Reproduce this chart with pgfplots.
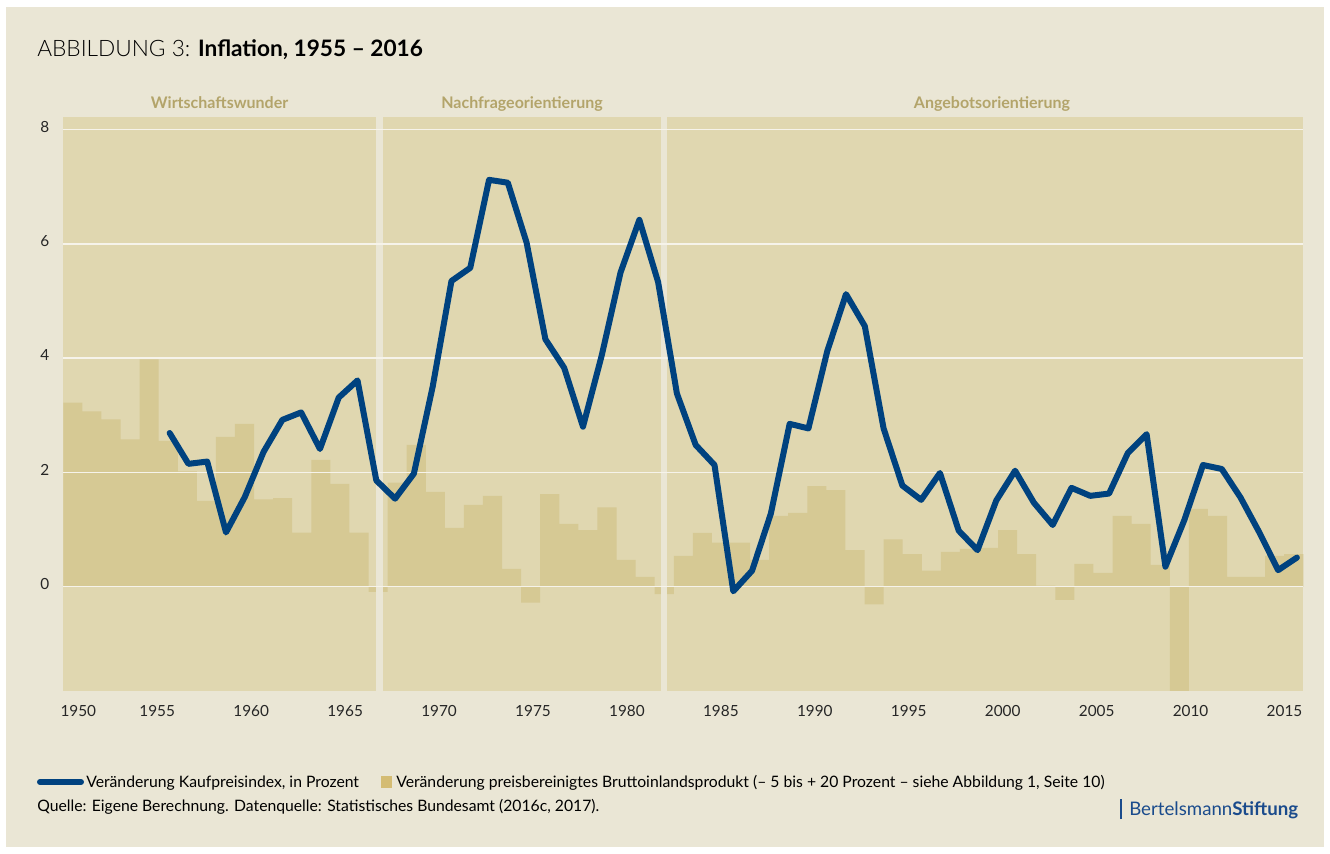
\documentclass[border=0pt]{standalone}
\usepackage{pgfplots}
\pgfplotsset{compat=1.18}
\usepackage{fontspec}
\setmainfont{Lato}
\newfontfamily\latolight{Lato Light}

\definecolor{outerbg}{HTML}{EAE6D5}
\definecolor{plotbg}{HTML}{E0D7B0}
\definecolor{barcol}{HTML}{D6C994}
\definecolor{gridcol}{HTML}{F6F3EA}
\definecolor{linecol}{HTML}{00427F}
\definecolor{sectcol}{HTML}{B3A46A}
\definecolor{legsq}{HTML}{D4BC73}
\definecolor{logocol}{HTML}{1A4B8C}

\begin{document}
\begin{tikzpicture}[x=0.75pt,y=0.75pt]
\fill[white] (0,0) rectangle (1330,853);
\fill[outerbg] (6,6) rectangle (1324,846);

% GDP bars (scaled), with region background and grid
\begin{axis}[
    at={(47.475pt,121.5pt)}, anchor=south west,
    width=930pt, height=430.5pt, scale only axis,
    xmin=1950, xmax=2015,
    ymin=-1.825, ymax=8.22,
    axis line style={draw=none},
    xtick=\empty,
    ytick={0,2,4,6,8}, yticklabels={},
    major tick length=0pt,
    ymajorgrids,
    grid style={color=gridcol, line width=1.1pt},
    axis background/.style={fill=plotbg},
    axis on top
  ]
  \addplot[ybar interval, fill=barcol, draw=none] coordinates {
    (1950,3.22) (1951,3.07) (1952,2.93) (1953,2.58) (1954,3.98)
    (1955,2.55) (1956,2.02) (1957,1.50) (1958,2.62) (1959,2.85)
    (1960,1.53) (1961,1.55) (1962,0.945) (1963,2.22) (1964,1.80)
    (1965,0.945) (1966,-0.09) (1967,1.82) (1968,2.48) (1969,1.66)
    (1970,1.03) (1971,1.43) (1972,1.59) (1973,0.31) (1974,-0.28)
    (1975,1.62) (1976,1.10) (1977,0.99) (1978,1.39) (1979,0.47)
    (1980,0.17) (1981,-0.13) (1982,0.54) (1983,0.94) (1984,0.77)
    (1985,0.77) (1986,0.47) (1987,1.24) (1988,1.29) (1989,1.76)
    (1990,1.69) (1991,0.64) (1992,-0.31) (1993,0.83) (1994,0.57)
    (1995,0.28) (1996,0.61) (1997,0.66) (1998,0.68) (1999,0.99)
    (2000,0.57) (2001,0.02) (2002,-0.23) (2003,0.40) (2004,0.24)
    (2005,1.24) (2006,1.10) (2007,0.38) (2008,-2.5) (2009,1.36)
    (2010,1.24) (2011,0.17) (2012,0.17) (2013,0.54) (2014,0.57)
    (2015,0.57)
  };
  % separators between the three periods
  \fill[outerbg] (axis cs:1966.39,-1.825) rectangle (axis cs:1966.76,8.22);
  \fill[outerbg] (axis cs:1981.32,-1.825) rectangle (axis cs:1981.66,8.22);
\end{axis}

% inflation line and tick labels
\begin{axis}[
    at={(47.475pt,121.5pt)}, anchor=south west,
    width=930pt, height=430.5pt, scale only axis,
    xmin=1950, xmax=2016,
    ymin=-1.825, ymax=8.22,
    axis line style={draw=none},
    major tick length=0pt,
    xtick={1950.8,1955,1960,1965,1970,1975,1980,1985,1990,1995,2000,2005,2010,2015},
    xticklabels={1950,1955,1960,1965,1970,1975,1980,1985,1990,1995,2000,2005,2010,2015},
    ytick={0,2,4,6,8}, yticklabels={0,2,4,6,8},
    tick label style={font=\fontsize{11.5}{13}\selectfont, text=black!85},
    xticklabel style={yshift=-7pt},
    yticklabel style={xshift=-7pt, yshift=2pt}
  ]
  \addplot[color=linecol, line width=4.5pt, line join=round, line cap=round,
    x filter/.expression={x-0.34}] coordinates {
    (1956,2.69) (1957,2.15) (1958,2.19) (1959,0.95) (1960,1.57)
    (1961,2.36) (1962,2.92) (1963,3.05) (1964,2.41) (1965,3.31)
    (1966,3.61) (1967,1.86) (1968,1.54) (1969,1.98) (1970,3.50)
    (1971,5.35) (1972,5.58) (1973,7.12) (1974,7.07) (1975,6.02)
    (1976,4.33) (1977,3.83) (1978,2.80) (1979,4.05) (1980,5.50)
    (1981,6.42) (1982,5.33) (1983,3.38) (1984,2.48) (1985,2.13)
    (1986,-0.08) (1987,0.28) (1988,1.28) (1989,2.85) (1990,2.77)
    (1991,4.12) (1992,5.12) (1993,4.56) (1994,2.77) (1995,1.77)
    (1996,1.52) (1997,1.99) (1998,0.98) (1999,0.64) (2000,1.51)
    (2001,2.03) (2002,1.47) (2003,1.08) (2004,1.73) (2005,1.59)
    (2006,1.63) (2007,2.34) (2008,2.67) (2009,0.35) (2010,1.16)
    (2011,2.13) (2012,2.06) (2013,1.56) (2014,0.95) (2015,0.29)
    (2016,0.51)
  };
\end{axis}

% period labels
\begin{scope}[every node/.style={font=\fontsize{12}{14}\selectfont\bfseries, text=sectcol, anchor=base}]
  \node at (219.6,744) {Wirtschaftswunder};
  \node at (522,744) {Nachfrageorientierung};
  \node at (992,744) {Angebotsorientierung};
\end{scope}

% title
\node[anchor=base west, font=\fontsize{17}{20}\selectfont, inner sep=0pt] at (37,796)
  {{\latolight ABBILDUNG 3:} \textbf{Inflation, 1955 – 2016}};

% legend
\draw[linecol, line width=4.5pt, line cap=round] (40,71) -- (81,71);
\node[anchor=base west, inner sep=0pt, font=\fontsize{11.8}{14}\selectfont] at (86,66)
  {Veränderung Kaufpreisindex, in Prozent};
\fill[legsq] (381,65) rectangle (392,77);
\node[anchor=base west, inner sep=0pt, font=\fontsize{11.8}{14}\selectfont] at (396,66)
  {Veränderung preisbereinigtes Bruttoinlandsprodukt (– 5 bis + 20 Prozent – siehe Abbildung 1, Seite 10)};
\node[anchor=base west, inner sep=0pt, font=\fontsize{11.8}{14}\selectfont] at (37,42)
  {Quelle: Eigene Berechnung. Datenquelle: Statistisches Bundesamt (2016c, 2017).};

% logo
\draw[logocol, line width=1.2pt] (1121,34) -- (1121,54);
\node[anchor=base west, inner sep=0pt, text=logocol, font=\fontsize{14}{16}\selectfont] at (1129,38)
  {Bertelsmann\textbf{Stiftung}};
\end{tikzpicture}
\end{document}
